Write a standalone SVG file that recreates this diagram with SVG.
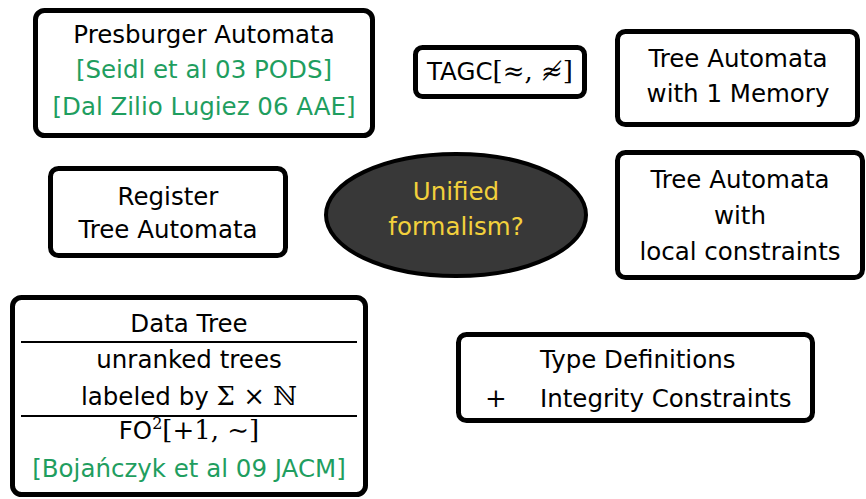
<svg xmlns="http://www.w3.org/2000/svg" width="866" height="499" viewBox="0 0 866 499">
  <style>
    .box { fill: #ffffff; stroke: #000000; stroke-width: 5; }
    .rule { stroke: #000000; stroke-width: 2; }
    text { font-family: "DejaVu Sans", "Liberation Sans", sans-serif; font-size: 24.5px; fill: #000000; text-anchor: middle; }
    text.left { text-anchor: start; }
    .cite { fill: #1f9e5f; }
    .math { font-family: "DejaVu Serif", "Liberation Serif", serif; font-size: 26px; }
    .sup { font-family: "DejaVu Serif", "Liberation Serif", serif; font-size: 16px; }
    .hl { fill: #f2d03c; }
  </style>

  <g id="presburger">
    <rect class="box" x="35.5" y="10.5" width="337" height="125" rx="9"/>
    <text x="204" y="43">Presburger Automata</text>
    <text class="cite" x="204" y="78">[Seidl et al 03 PODS]</text>
    <text class="cite" x="204" y="115">[Dal Zilio Lugiez 06 AAE]</text>
  </g>

  <g id="tagc">
    <rect class="box" x="415.5" y="47.5" width="169" height="49" rx="7"/>
    <text x="500" y="80">TAGC<tspan class="math">[≈, ≉]</tspan></text>
  </g>

  <g id="memory">
    <rect class="box" x="617.5" y="31.5" width="240" height="93" rx="8"/>
    <text x="738" y="67">Tree Automata</text>
    <text x="738" y="102">with 1 Memory</text>
  </g>

  <g id="register">
    <rect class="box" x="50.5" y="168.5" width="235" height="87" rx="8"/>
    <text x="168" y="205">Register</text>
    <text x="168" y="238">Tree Automata</text>
  </g>

  <g id="unified">
    <ellipse cx="456" cy="215" rx="130" ry="61" fill="#383838" stroke="#000000" stroke-width="4"/>
    <text class="hl" x="456" y="200">Unified</text>
    <text class="hl" x="456" y="235">formalism?</text>
  </g>

  <g id="local">
    <rect class="box" x="617.5" y="152.5" width="245" height="125" rx="8"/>
    <text x="740" y="188">Tree Automata</text>
    <text x="740" y="224">with</text>
    <text x="740" y="260">local constraints</text>
  </g>

  <g id="datatree">
    <rect class="box" x="12.5" y="297.5" width="353" height="197" rx="9"/>
    <text x="189" y="332">Data Tree</text>
    <line class="rule" x1="21" y1="342" x2="357" y2="342"/>
    <text x="189" y="368">unranked trees</text>
    <text x="189" y="405">labeled by <tspan class="math">Σ × ℕ</tspan></text>
    <line class="rule" x1="21" y1="416" x2="357" y2="416"/>
    <text x="189" y="439">FO<tspan class="sup" dy="-10">2</tspan><tspan class="math" dy="10">[+1, ∼]</tspan></text>
    <text class="cite" x="189" y="477">[Bojańczyk et al 09 JACM]</text>
  </g>

  <g id="typedefs">
    <rect class="box" x="458.5" y="334.5" width="354" height="86" rx="8"/>
    <text class="left" x="540" y="368">Type Definitions</text>
    <text class="math" x="496" y="407">+</text>
    <text class="left" x="540" y="407">Integrity Constraints</text>
  </g>

  <g id="connectors"/>
</svg>
